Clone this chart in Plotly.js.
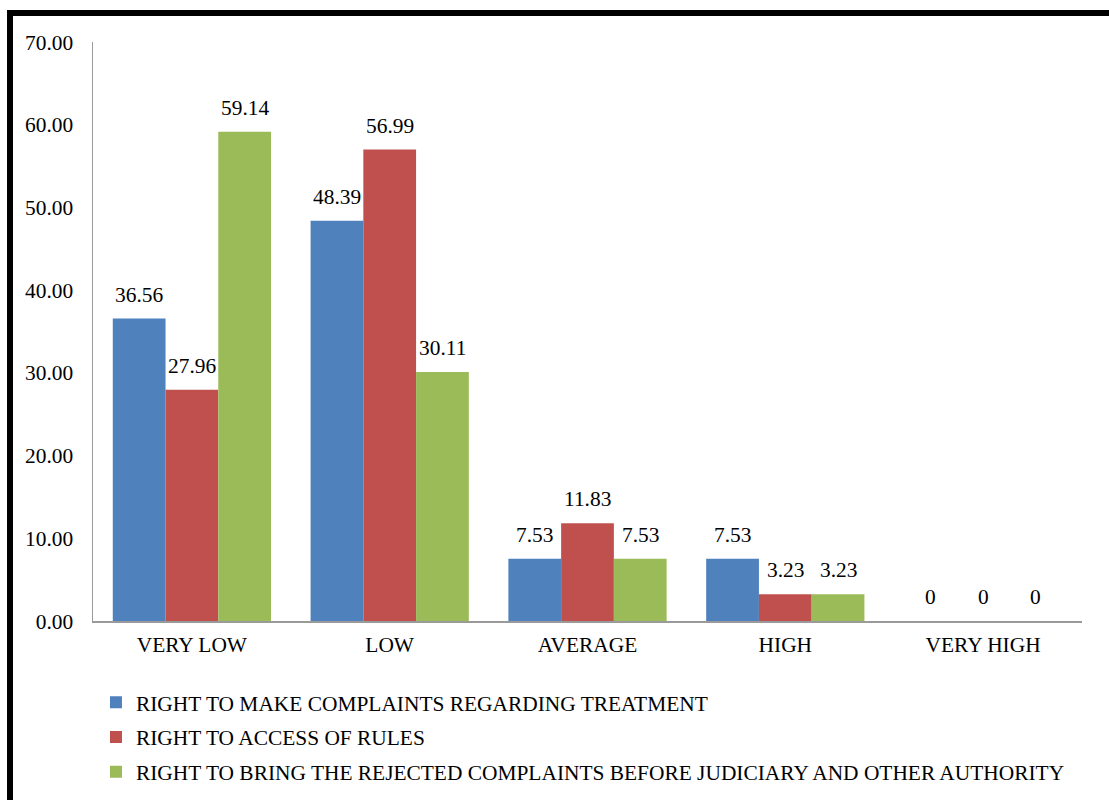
<!DOCTYPE html>
<html>
<head>
<meta charset="utf-8">
<script src="https://cdn.plot.ly/plotly-3.0.1.min.js"></script>
<style>
  html, body { margin: 0; padding: 0; background: #fff; }
  #wrap { position: relative; width: 1109px; height: 800px; overflow: hidden; }
  #chart { width: 1109px; height: 800px; }
  #frame {
    position: absolute; left: 7px; top: 10px; right: -10px; bottom: -10px;
    border-top: 6px solid #000; border-left: 6px solid #000;
    pointer-events: none;
  }
</style>
</head>
<body>
<div id="wrap">
  <div id="chart"></div>
  <div id="frame"></div>
</div>
<script>
// Levels of awareness for each right
const categories = ["VERY LOW", "LOW", "AVERAGE", "HIGH", "VERY HIGH"];

const seriesNames = [
  "RIGHT TO MAKE COMPLAINTS REGARDING TREATMENT",
  "RIGHT TO ACCESS OF RULES",
  "RIGHT TO BRING THE REJECTED COMPLAINTS BEFORE JUDICIARY AND OTHER AUTHORITY"
];

const complaintsTreatment = [36.56, 48.39, 7.53, 7.53, 0];
const accessRules = [27.96, 56.99, 11.83, 3.23, 0];
const rejectedComplaints = [59.14, 30.11, 7.53, 3.23, 0];

const yTickValues = [0, 10, 20, 30, 40, 50, 60, 70];

const seriesValues = [complaintsTreatment, accessRules, rejectedComplaints];
const colors = ["#4F81BD", "#C0504D", "#9BBB59"];

const FONT = "Liberation Serif";
const FS = 21.4;
const BARGAP = 0.2;

const fmt = v => (v === 0 ? "0" : v.toFixed(2));

const traces = seriesValues.map((vals, j) => ({
  type: "bar",
  name: seriesNames[j],
  x: categories,
  y: vals,
  marker: { color: colors[j], line: { width: 0 } },
  legendgroup: "g" + j,
  hoverinfo: "skip"
}));

// value labels above each bar, placed at the bar's slot within its group
const nSeries = seriesValues.length;
const barW = (1 - BARGAP) / nSeries;
const annotations = [];
seriesValues.forEach((vals, j) => {
  vals.forEach((v, i) => {
    annotations.push({
      x: i + (j - (nSeries - 1) / 2) * barW,
      y: v,
      xref: "x",
      yref: "y",
      text: fmt(v),
      showarrow: false,
      xanchor: "center",
      yanchor: "middle",
      yshift: 24,
      font: { family: FONT, size: FS, color: "#000" }
    });
  });
});

const layout = {
  width: 1109,
  height: 800,
  margin: { l: 93, r: 27, t: 42, b: 179, pad: 0, autoexpand: false },
  paper_bgcolor: "#fff",
  plot_bgcolor: "#fff",
  font: { family: FONT, size: FS, color: "#000" },
  barmode: "group",
  bargap: BARGAP,
  bargroupgap: 0,
  showlegend: true,
  legend: {
    orientation: "v",
    x: 0.003,
    xanchor: "left",
    y: -0.105,
    yanchor: "top",
    traceorder: "grouped",
    tracegroupgap: 4,
    font: { family: FONT, size: FS, color: "#000" },
    bgcolor: "rgba(0,0,0,0)"
  },
  xaxis: {
    type: "category",
    showline: true,
    linecolor: "#9a9a9a",
    linewidth: 1.5,
    ticks: "",
    ticklabelstandoff: 4,
    showgrid: false,
    zeroline: false,
    automargin: false,
    tickfont: { family: FONT, size: FS, color: "#000" },
    fixedrange: true
  },
  yaxis: {
    range: [0, 70],
    tickvals: yTickValues,
    ticktext: yTickValues.map(v => v.toFixed(2)),
    showline: true,
    linecolor: "#9a9a9a",
    linewidth: 1.5,
    ticks: "",
    ticklabelstandoff: 14,
    showgrid: false,
    zeroline: false,
    automargin: false,
    tickfont: { family: FONT, size: FS, color: "#000" },
    fixedrange: true
  },
  annotations: annotations
};

Plotly.newPlot("chart", traces, layout, { displayModeBar: false, staticPlot: true });
</script>
</body>
</html>
